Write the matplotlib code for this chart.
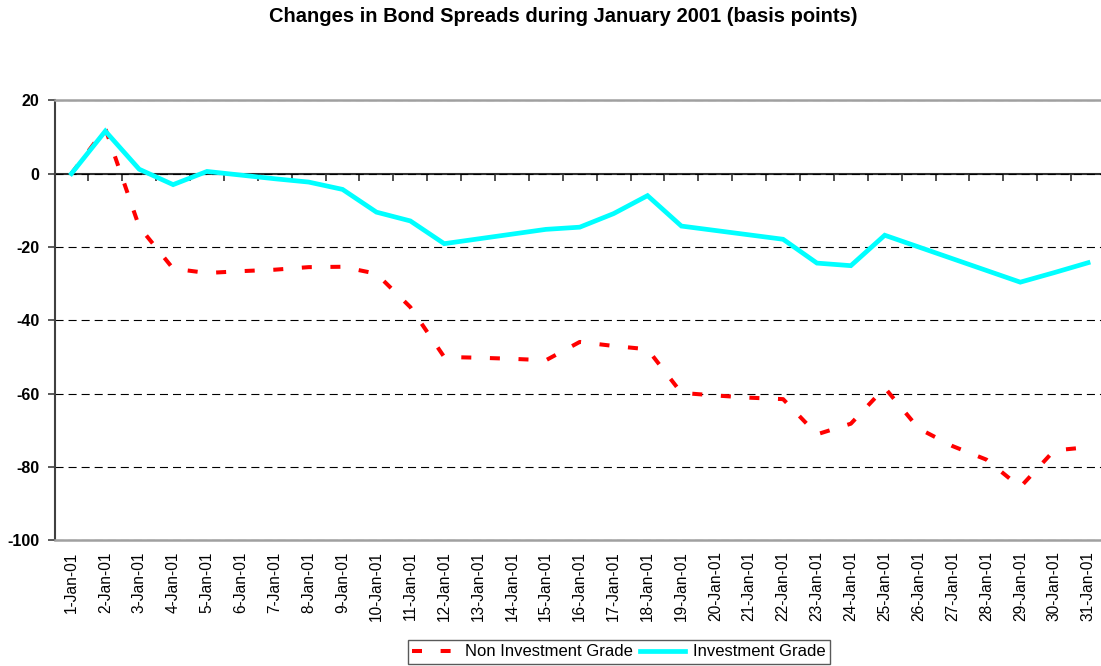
import matplotlib
matplotlib.use("Agg")
import matplotlib.pyplot as plt
from matplotlib import font_manager
import numpy as np

dates = [f"{d}-Jan-01" for d in range(1, 32)]
non_investment = [0, 12.3, -14.5, -25.9, -27.1, -26.6, -26.2, -25.5, -25.4, -27.3,
                  -36.4, -50.0, -50.2, -50.5, -50.9, -45.9, -47.0, -47.9, -59.8, -60.5,
                  -61.1, -61.5, -71.1, -68.2, -58.4, -69.5, -74.3, -78.0, -85.5, -75.5,
                  -74.6]
investment = [0, 11.6, 1.2, -3.0, 0.6, -0.4, -1.4, -2.3, -4.3, -10.5,
              -12.9, -19.1, -17.8, -16.5, -15.2, -14.6, -10.9, -6.0, -14.3, -15.5,
              -16.7, -17.9, -24.4, -25.1, -16.8, -20.0, -23.2, -26.4, -29.6, -27.0,
              -24.3]
y_ticks = [20, 0, -20, -40, -60, -80, -100]
title = "Changes in Bond Spreads during January 2001 (basis points)"

names = {f.name for f in font_manager.fontManager.ttflist}
base = "Liberation Sans" if "Liberation Sans" in names else "DejaVu Sans"
plt.rcParams['font.family'] = [base, 'DejaVu Sans']
plt.rcParams['lines.scale_dashes'] = False

W, H = 1101, 666
fig = plt.figure(figsize=(W / 100, H / 100), dpi=100)
left_px, right_px, top_px, bot_px = 54.5, 1105, 100.3, 540.3
ax = fig.add_axes([left_px / W, 1 - bot_px / H, (right_px - left_px) / W, (bot_px - top_px) / H])

x = np.arange(len(dates))
ax.plot(x, non_investment, color='#FF0000', lw=2.9, dashes=(7.2, 13.4),
        solid_capstyle='butt', dash_capstyle='butt', label='Non Investment Grade', zorder=4)
ax.plot(x, investment, color='#00FFFF', lw=3.4, solid_joinstyle='miter',
        label='Investment Grade', zorder=5)

ax.set_xlim(-0.5, len(dates) - 0.5)
ax.set_ylim(min(y_ticks), max(y_ticks))
ax.set_yticks(y_ticks)
ax.set_yticklabels([str(v) for v in y_ticks], fontweight='bold', fontsize=11.5)
ax.tick_params(axis='y', direction='out', length=5, width=1.2, color='#404040', pad=6)

ax.set_xticks(x)
ax.set_xticklabels(dates, rotation=90, fontsize=11.2, va='top', ha='center')
ax.tick_params(axis='x', length=0, pad=8)

ax.grid(axis='y', color='black', linestyle=(0, (5.8, 3.6)), lw=0.8)
ax.set_axisbelow(True)

for s in ['top', 'bottom']:
    ax.spines[s].set_color('#a0a0a0')
    ax.spines[s].set_linewidth(1.8)
ax.spines['right'].set_visible(False)
ax.spines['left'].set_color('#404040')
ax.spines['left'].set_linewidth(1.5)

# category axis crossing at zero with tick marks between categories
y0, y1 = ax.get_ylim()
sec = ax.secondary_xaxis((0 - y0) / (y1 - y0))
sec.set_xticks(np.arange(len(dates) + 1) - 0.5)
sec.set_xticklabels([])
sec.tick_params(axis='x', direction='in', length=5, width=1.2, color='#303030')
for s in sec.spines.values():
    s.set_color('#303030')
    s.set_linewidth(1.5)

fig.text(563 / W, 1 - 16 / H, title, ha='center', va='center',
         fontsize=14.5, fontweight='bold')

leg = fig.legend(loc='center', bbox_to_anchor=(619 / W, 1 - 652 / H), ncol=2,
                 fontsize=12, frameon=True, fancybox=False, handlelength=2.7,
                 handletextpad=0.5, columnspacing=0.4, borderpad=0.25,
                 borderaxespad=0)
leg.get_frame().set_edgecolor('#303030')
leg.get_frame().set_linewidth(1.0)

fig.savefig("out.png", dpi=100)
